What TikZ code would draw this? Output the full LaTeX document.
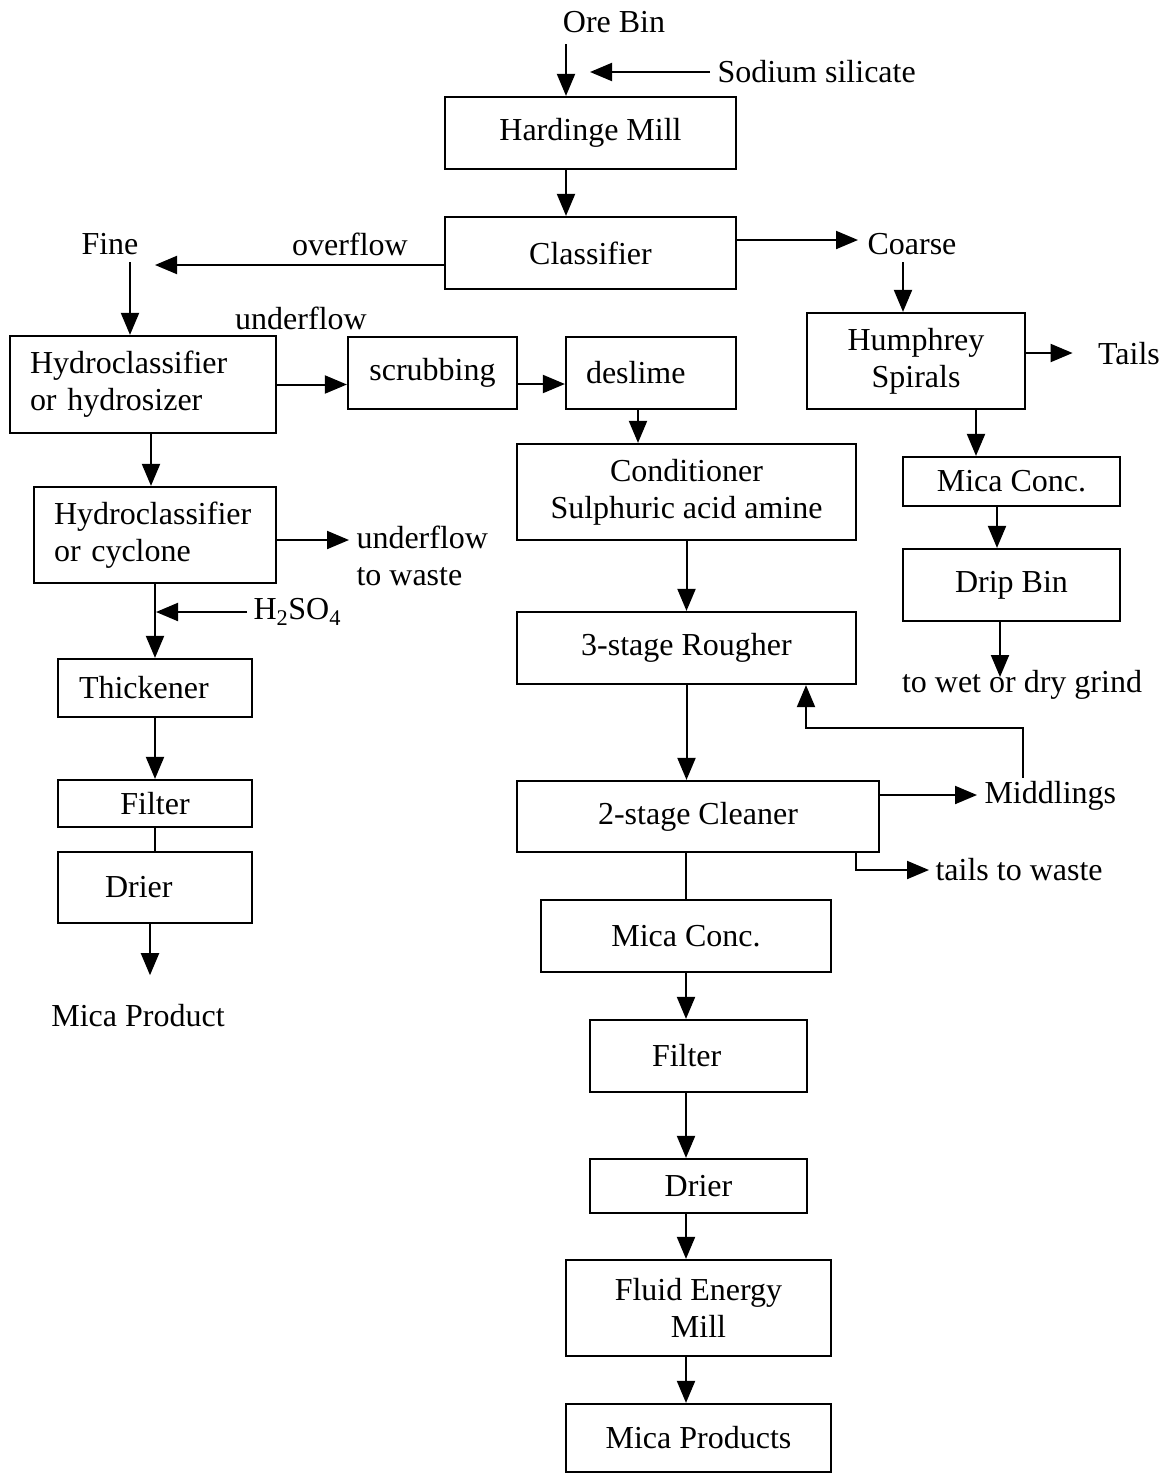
\documentclass[tikz,border=0pt]{standalone}
\usepackage{fontspec}
\setmainfont{Liberation Serif}
\usepackage{tikz}
\usetikzlibrary{arrows.meta}

\begin{document}
\begin{tikzpicture}[x=1pt,y=-1pt,
  nodes={font=\fontsize{32}{37}\selectfont},
  box/.style={draw, line width=2.2pt, inner sep=0pt, align=center},
  lbox/.style={box, align=left, inner xsep=20pt},
  arr/.style={line width=2pt, -{Triangle[length=22pt,width=18pt]}},
  ln/.style={line width=2pt}]
\useasboundingbox (0,0) rectangle (1168,1473);

% main column
\node [box, minimum width=291, minimum height=72] (hmill) at (590.5,133) {Hardinge Mill};
\node [box, minimum width=291, minimum height=72] (clsf) at (590.5,253) {Classifier};
\node [box, minimum width=169, minimum height=72] (scrub) at (432.5,373) {scrubbing};
\node [lbox, text width=130, minimum height=72] (deslime) at (651,373) {deslime};
\node [box, minimum width=339, minimum height=96] (cond) at (686.5,492) {Conditioner\\Sulphuric acid amine};
\node [box, minimum width=339, minimum height=72] (rough) at (686.5,648) {3-stage Rougher};
\node [box, minimum width=362, minimum height=71] (clean) at (698,816.5) {2-stage Cleaner};
\node [box, minimum width=290, minimum height=72] (mconc) at (686,936) {Mica Conc.};
\node [lbox, text width=177, inner xsep=20pt, minimum height=72] (filt) at (698.5,1056) {\hspace{42pt}Filter};
\node [box, minimum width=217, minimum height=54] (drier) at (698.5,1186) {Drier};
\node [box, minimum width=265, minimum height=96] (fem) at (698.5,1308) {Fluid Energy\\Mill};
\node [box, minimum width=265, minimum height=68] (mprods) at (698.5,1438) {Mica Products};

% coarse branch
\node [box, minimum width=218, minimum height=96] (hump) at (916,361) {Humphrey\\Spirals};
\node [box, minimum width=217, minimum height=49] (mconcb) at (1011.5,481.5) {Mica Conc.};
\node [box, minimum width=217, minimum height=72] (drip) at (1011.5,585) {Drip Bin};

% fine branch
\node [lbox, text width=226, minimum height=97] (hyda) at (143,384.5) {Hydroclassifier\\or hydrosizer};
\node [lbox, text width=202, minimum height=96] (hydb) at (155,535) {Hydroclassifier\\or cyclone};
\node [lbox, text width=174, inner xsep=10pt, minimum height=58] (thick) at (155,688) {\hspace{11pt}Thickener};
\node [box, minimum width=194, minimum height=47] (filtb) at (155,803.5) {Filter};
\node [lbox, text width=174, inner xsep=10pt, minimum height=71] (drierb) at (155,887.5) {\hspace{37pt}Drier};

% labels
\node (orebin) at (614,22) {Ore Bin};
\node [anchor=west] (sodium) at (714,72) {Sodium silicate};
\node (fine) at (110,244) {Fine};
\node (overflow) at (350,244) {overflow};
\node [anchor=west] (coarse) at (864,244) {Coarse};
\node (underflow) at (301,318) {underflow};
\node (tails) at (1129,354) {Tails};
\node [anchor=west, align=left] (uwaste) at (353,556) {underflow\\to waste};
\node [anchor=west] (hso) at (250,612) {H\textsubscript{2}SO\textsubscript{4}};
\node (mprod) at (138,1016) {Mica Product};
\node (wetdry) at (1022,685) {to wet or dry grind};
\node [anchor=west] (middl) at (981,796) {Middlings};
\node [anchor=west] (tailsw) at (932,870) {tails to waste};

\coordinate (sodin) at (590,72);
\coordinate (finein) at (155,265);

% connectors
\draw [arr, shorten <=8pt] ([xshift=-48pt]orebin.south) -- ([xshift=-24.5pt]hmill.north);
\draw [arr, shorten <=4pt] (sodium.west) -- (sodin);
\draw [arr] ([xshift=-24.5pt]hmill.south) -- ([xshift=-24.5pt]clsf.north);
\draw [arr] ([yshift=-12pt]clsf.west) -- (finein);
\draw [arr, shorten >=6pt] ([yshift=13pt]clsf.east) -- ([yshift=13pt]clsf.east -| coarse.west);
\draw [arr, shorten <=4pt] ([xshift=-13pt]hump.north |- coarse.south) -- ([xshift=-13pt]hump.north);
\draw [arr, shorten <=4pt] ([xshift=20pt]fine.south) -- ([xshift=-13pt]hyda.north);
\draw [arr] (hyda.east) -- (hyda.east -| scrub.west);
\draw [arr] ([yshift=-11pt]scrub.east) -- ([yshift=-11pt]deslime.west);
\draw [arr] ([xshift=-13pt]deslime.south) -- ([xshift=-48.5pt]cond.north);
\draw [arr] (cond.south) -- (rough.north);
\draw [arr] (rough.south) -- (rough.south |- clean.north);
\draw [ln] (clean.south -| mconc.north) -- (mconc.north);
\draw [arr] (mconc.south) -- (mconc.south |- filt.north);
\draw [arr] (filt.south -| mconc) -- (drier.north -| mconc);
\draw [arr] (drier.south -| mconc) -- (fem.north -| mconc);
\draw [arr] (fem.south -| mconc) -- (mprods.north -| mconc);
\draw [arr, shorten >=4pt] ([yshift=21.5pt]clean.east) -- ([yshift=21.5pt]clean.east -| middl.west);
\draw [arr] ([xshift=-27pt]middl.north) -- ++(0,-50) -| ([xshift=119.5pt]rough.south);
\draw [arr, shorten >=3pt] ([xshift=158pt]clean.south) |- (tailsw.west);
\draw [arr, shorten >=22pt] ([yshift=8pt]hump.east) -- ([yshift=8pt]hump.east -| tails.west);
\draw [arr] ([xshift=60pt]hump.south) -- ([xshift=-35.5pt]mconcb.north);
\draw [arr] ([xshift=-14.5pt]mconcb.south) -- ([xshift=-14.5pt]drip.north);
\draw [arr, shorten >=8pt] ([xshift=-11.5pt]drip.south) -- ([xshift=-11.5pt]drip.south |- wetdry.center);
\draw [arr] ([xshift=8pt]hyda.south) -- ([xshift=-4pt]hydb.north);
\draw [arr, shorten >=4pt] ([yshift=-5pt]hydb.east) -- ([yshift=-5pt]hydb.east -| uwaste.west);
\draw [arr] (hydb.south) -- (thick.north);
\draw [arr, shorten >=1pt, shorten <=3pt] (hso.west) -- (hso.west -| hydb.south);
\draw [arr] (thick.south) -- (filtb.north);
\draw [ln] (filtb.south) -- (drierb.north);
\draw [arr, shorten >=26pt] ([xshift=-5pt]drierb.south) -- ([xshift=-5pt]drierb.south |- mprod.north);

\end{tikzpicture}
\end{document}
